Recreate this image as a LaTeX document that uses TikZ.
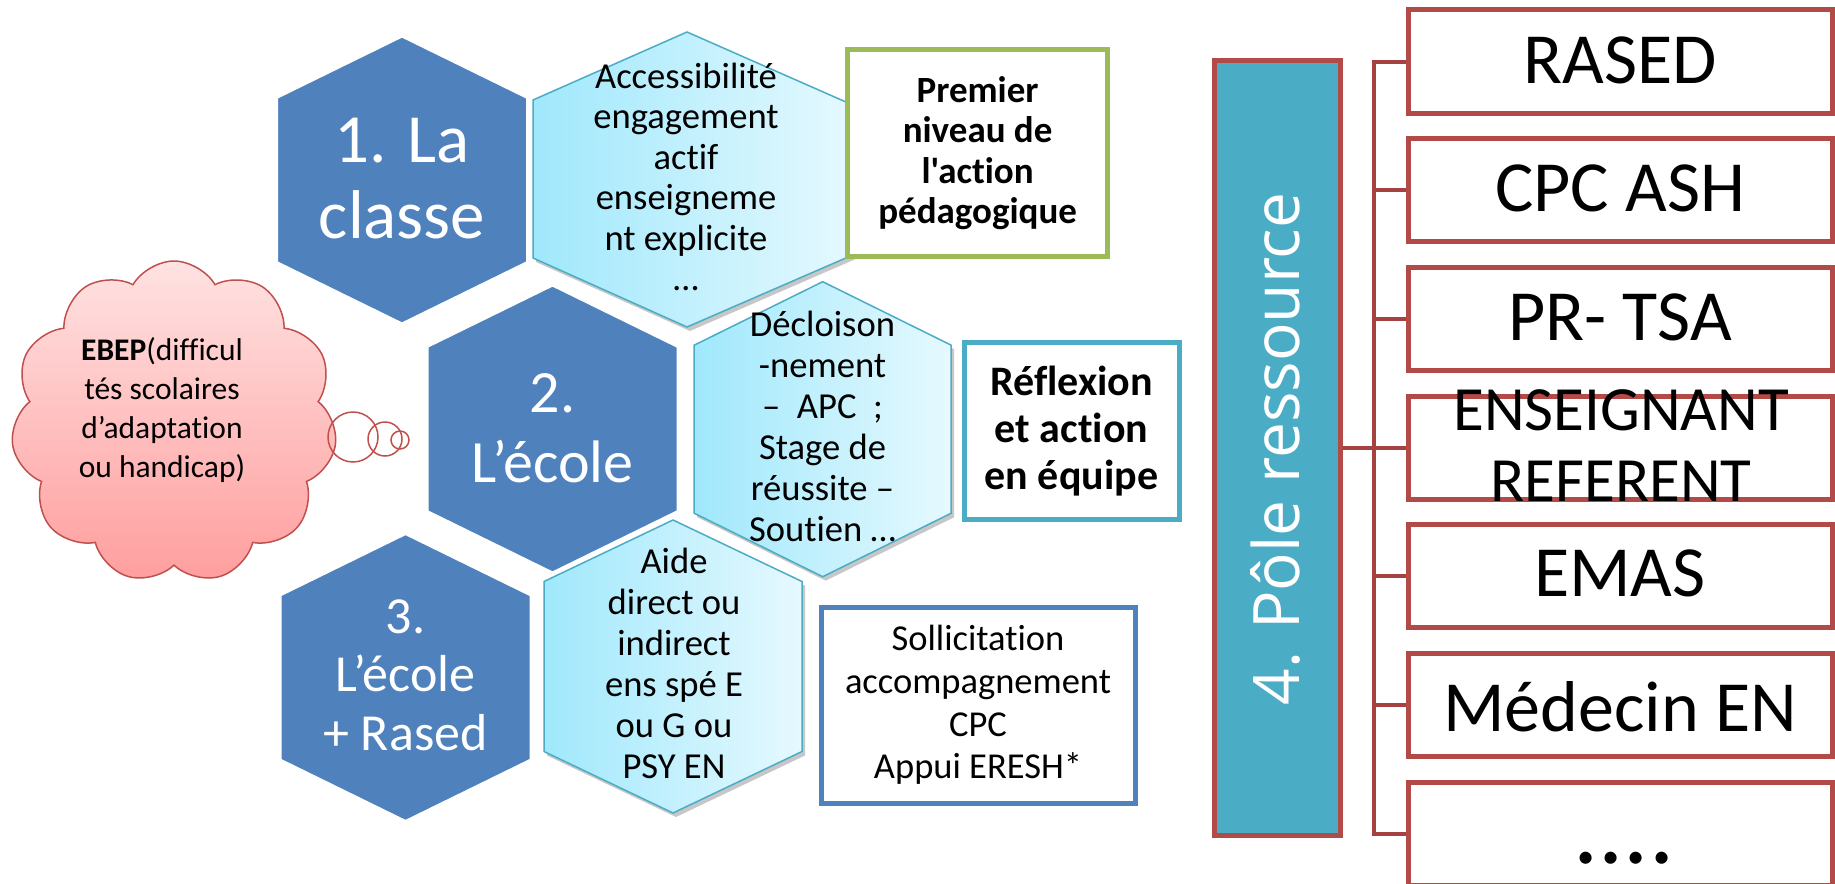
\documentclass[tikz,border=0pt]{standalone}
\usepackage{fontspec}
\setmainfont{Carlito}[Ligatures=NoCommon]
\newfontfamily\calibri{Carlito}[Ligatures=NoCommon]
\newfontfamily\polefont{Open Sans}
\usetikzlibrary{shapes.symbols,shadows}
\definecolor{hexblue}{RGB}{79,129,189}
\definecolor{hexedge}{RGB}{75,172,198}
\definecolor{lhleft}{RGB}{160,232,252}
\definecolor{lhright}{RGB}{230,249,254}
\definecolor{boxgreen}{RGB}{155,187,89}
\definecolor{boxteal}{RGB}{75,172,198}
\definecolor{boxblue}{RGB}{79,129,189}
\definecolor{resred}{RGB}{178,74,71}
\definecolor{connred}{RGB}{165,65,62}
\definecolor{polefill}{RGB}{75,172,198}
\definecolor{cloudred}{RGB}{192,80,77}
\definecolor{cloudtop}{RGB}{255,226,226}
\definecolor{cloudbot}{RGB}{255,158,158}
\begin{document}
\begin{tikzpicture}[x=1pt,y=-1pt,
  darkhex/.style={fill=hexblue, draw=white, line width=3pt, line join=miter},
  lighthex/.style={draw=hexedge, line width=1.5pt, left color=lhleft, right color=lhright,
    drop shadow={shadow xshift=3pt, shadow yshift=-4pt, opacity=0.22, fill=black}},
  txt/.style={inner sep=0pt, align=center, anchor=base},
  framebox/.style={draw=#1, line width=5pt, fill=white, inner sep=0pt, align=center},
  resbox/.style={draw=resred, line width=5pt, fill=white, inner sep=0pt,
    minimum width=424pt, minimum height=103.3pt},
  conn/.style={draw=connred, line width=4pt, line join=miter},
  bubble/.style={circle, draw=cloudred, line width=1.5pt, inner sep=0pt}
]
\useasboundingbox (0,0) rectangle (1835,883);
\fill[white] (0,0) rectangle (1835,883);

% light hexagons
\path[lighthex] (687,32) -- (855,106) -- (855,254) -- (687,327) -- (533,258) -- (533,100) -- cycle;
\path[lighthex] (822.7,281.7) -- (951.2,345.2) -- (951.2,513.2) -- (822.7,576.7) -- (694.2,513.2) -- (694.2,345.2) -- cycle;
\path[lighthex] (673,520) -- (802,581.5) -- (802,751.5) -- (673,813) -- (544,751.5) -- (544,581.5) -- cycle;

% dark hexagons
\path[darkhex] (402,36) -- (527.5,97.5) -- (527.5,262.5) -- (402,324) -- (276.5,262.5) -- (276.5,97.5) -- cycle;
\path[darkhex] (552.5,285) -- (678,346.5) -- (678,511.5) -- (552.5,573) -- (427,511.5) -- (427,346.5) -- cycle;
\path[darkhex] (405.5,533.5) -- (531,595) -- (531,760) -- (405.5,821.5) -- (280,760) -- (280,595) -- cycle;

% texts of dark hexagons (anchor = baseline of last line)
\node[txt, text=white, font=\calibri\fontsize{69}{76}\selectfont] (h1t) at (402,238) {1. La\\classe};
\node[txt, text=white, font=\calibri\fontsize{60}{70}\selectfont] (h2t) at (552.5,482) {2.\\L’école};
\node[txt, text=white, font=\calibri\fontsize{52}{58.5}\selectfont] (h3t) at (405.5,750) {3.\\L’école\\+ Rased};

% texts of light hexagons
\node[txt, font=\calibri\fontsize{36.6}{40.5}\selectfont] (l1t) at (686,290.5) {Accessibilité\\engagement\\actif\\enseigneme\\nt explicite\\…};
\node[txt, font=\calibri\fontsize{36.6}{41}\selectfont] (l2t) at (822.5,541.7) {Décloison\\-nement\\–~ APC~ ;\\Stage de\\réussite –\\Soutien …};
\node[txt, font=\calibri\fontsize{36.6}{41}\selectfont] (l3t) at (674,778) {Aide\\direct ou\\indirect\\ens spé E\\ou G ou\\PSY EN};

% framed boxes
\node[framebox=boxgreen, minimum width=259.3pt, minimum height=206.7pt,
      font=\calibri\bfseries\fontsize{37}{40.5}\selectfont] (premier) at (977.6,153.3)
      {Premier\\niveau de\\l'action\\pédagogique};
\node[framebox=boxteal, minimum width=215pt, minimum height=176.6pt,
      font=\calibri\bfseries\fontsize{42}{46.7}\selectfont] (reflexion) at (1071.5,431)
      {Réflexion\\et action\\en équipe};
\node[framebox=boxblue, minimum width=314pt, minimum height=196pt,
      font=\calibri\fontsize{36.5}{42.7}\selectfont] (sollic) at (978,705)
      {Sollicitation\\accompagnement\\CPC\\Appui ERESH*};

% cloud
\node[cloud, cloud puffs=11, cloud puff arc=120, aspect=1.02, draw=cloudred, line width=1.5pt,
      top color=cloudtop, bottom color=cloudbot, minimum width=326pt, minimum height=322pt,
      inner sep=0pt] (ebep) at (174,422) {};
\node[bubble, minimum size=50pt] (b1) at (353,437) {};
\node[bubble, minimum size=34pt] (b2) at (385,439) {};
\node[bubble, minimum size=18pt] (b3) at (400,440) {};
\node[txt, font=\calibri\fontsize{31.5}{39}\selectfont] (ebept) at (162,477)
      {\textbf{EBEP}(difficul\\tés scolaires\\d’adaptation\\ou handicap)};

% pole ressource
\node[draw=resred, line width=5pt, fill=polefill, inner sep=0pt,
      minimum width=126.5pt, minimum height=774.5pt] (pole) at (1277.25,447.75) {};
\node[inner sep=0pt, anchor=base, rotate=90, text=white,
      font=\polefont\fontsize{64}{70}\selectfont] (polet) at (1299,449) {4. Pôle ressource};

% resource boxes
\node[resbox] (r1) at (1620,61.65) {};
\node[resbox] (r2) at (1620,190.3) {};
\node[resbox] (r3) at (1620,319) {};
\node[resbox] (r4) at (1620,447.7) {};
\node[resbox] (r5) at (1620,576.3) {};
\node[resbox] (r6) at (1620,705) {};
\node[resbox] (r7) at (1620,833.7) {};

\coordinate (bus) at (1374,448);
\draw[conn] (pole.east) -- (pole.east -| bus);
\draw[conn] (r1.west) -- (bus |- r1.west) -- (bus |- r7.west) -- (r7.west);
\foreach \i in {2,...,6} { \draw[conn] (bus |- r\i.west) -- (r\i.west); }

\node[txt, font=\calibri\fontsize{72}{80}\selectfont] (t1) at (1620,83.3) {RASED};
\node[txt, font=\calibri\fontsize{72}{80}\selectfont] (t2) at (1620,211.7) {CPC ASH};
\node[txt, font=\calibri\fontsize{72}{80}\selectfont] (t3) at (1620,340) {PR- TSA};
\node[txt, font=\calibri\fontsize{63}{71}\selectfont] (t4) at (1621,501) {ENSEIGNANT\\REFERENT};
\node[txt, font=\calibri\fontsize{72}{80}\selectfont] (t5) at (1620,596.7) {EMAS};
\node[txt, font=\calibri\fontsize{72}{80}\selectfont] (t6) at (1620,731.7) {Médecin EN};
\node[txt, font=\calibri\fontsize{100}{110}\selectfont] (t7) at (1624,863) {....};
\end{tikzpicture}
\end{document}
